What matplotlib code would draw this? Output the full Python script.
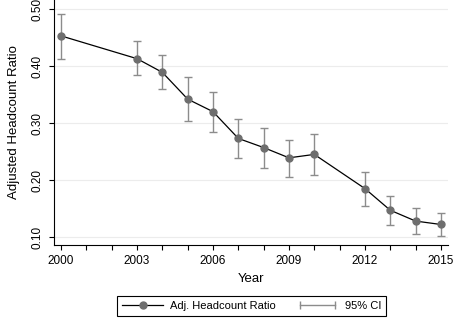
import matplotlib.pyplot as plt
from matplotlib.lines import Line2D
from matplotlib.legend_handler import HandlerLine2D

plt.rcParams['font.family'] = ['Liberation Sans', 'DejaVu Sans']

years = [2000, 2003, 2004, 2005, 2006, 2007, 2008, 2009, 2010, 2012, 2013, 2014, 2015]
ratio = [0.453, 0.413, 0.389, 0.342, 0.320, 0.273, 0.257, 0.239, 0.245, 0.185, 0.147, 0.128, 0.122]
ci_low = [0.413, 0.384, 0.359, 0.304, 0.285, 0.239, 0.222, 0.206, 0.208, 0.155, 0.121, 0.105, 0.102]
ci_high = [0.492, 0.444, 0.419, 0.380, 0.354, 0.307, 0.291, 0.271, 0.281, 0.215, 0.172, 0.151, 0.143]
xticks = [2000, 2003, 2006, 2009, 2012, 2015]
yticks = [0.10, 0.20, 0.30, 0.40, 0.50]

fig = plt.figure(figsize=(4.59, 3.2), dpi=100)
ax = fig.add_axes([54/459, 75/320, 394/459, 245/320])

# confidence intervals
err = [[r - l for r, l in zip(ratio, ci_low)], [h - r for r, h in zip(ratio, ci_high)]]
ax.errorbar(years, ratio, yerr=err, fmt='none', ecolor='#8c8c8c', elinewidth=1,
            capsize=3, capthick=1, zorder=2)
ax.plot(years, ratio, color='black', lw=0.9, marker='o', markersize=5,
        markerfacecolor='#6e6e6e', markeredgecolor='#6e6e6e', zorder=3)

ax.set_xlim(1999.72, 2015.28)
ax.set_ylim(0.086, 0.516)
ax.set_xticks(range(2000, 2016), minor=True)
ax.set_xticks(xticks)
ax.set_yticks(yticks)
ax.set_yticklabels([f'{v:.2f}' for v in yticks], rotation=90, va='center')
ax.tick_params(which='both', length=3.5, width=0.8, labelsize=8.5, pad=4)
ax.grid(axis='y', color='#ececec', lw=0.8)
ax.set_axisbelow(True)
for s in ['top', 'right']:
    ax.spines[s].set_visible(False)
ax.spines['left'].set_linewidth(0.8)
ax.spines['bottom'].set_linewidth(0.8)
ax.set_xlabel('Year', fontsize=9.5, labelpad=4)
ax.set_ylabel('Adjusted Headcount Ratio', fontsize=9.5, labelpad=8)

h1 = Line2D([], [], color='black', lw=0.9, marker='o', markersize=5,
            markerfacecolor='#6e6e6e', markeredgecolor='#6e6e6e')
h2 = Line2D([], [], color='#8c8c8c', lw=1, marker='|', markersize=6,
            markeredgewidth=1)
leg = fig.legend([h1, h2], ['Adj. Headcount Ratio', '95% CI'], loc='center',
                 bbox_to_anchor=(0.548, 0.045), ncol=2, fontsize=8,
                 handlelength=3.7, handletextpad=0.6, columnspacing=1.9,
                 fancybox=False, edgecolor='black', framealpha=1,
                 borderpad=0.45, handler_map={h2: HandlerLine2D(numpoints=2)})
leg.get_frame().set_linewidth(0.8)

fig.savefig('out.png', dpi=100)
